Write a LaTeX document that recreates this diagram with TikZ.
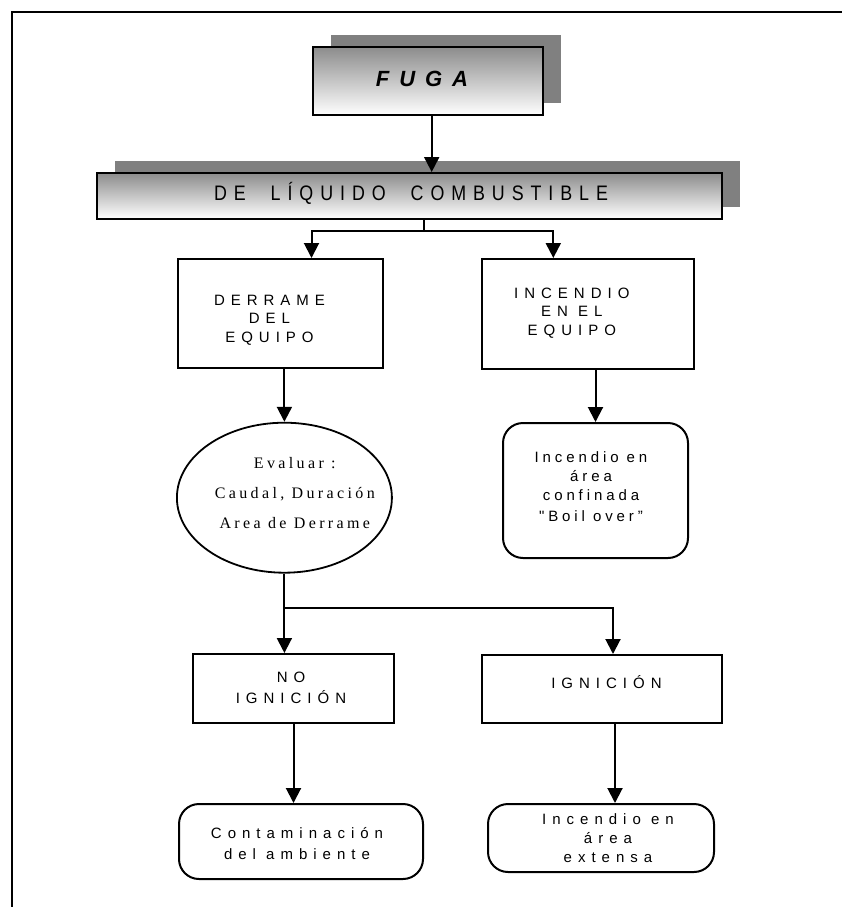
\documentclass[tikz,border=0pt]{standalone}
\usepackage{fontspec}
\setmainfont{Liberation Sans}
\newfontfamily\titlefont[LetterSpace=45]{Liberation Sans}
\newfontfamily\bandfont[LetterSpace=33,WordSpace=2.1,FakeStretch=0.85]{Liberation Sans}
\newfontfamily\capfont[LetterSpace=40]{Liberation Sans}
\newfontfamily\softfont[LetterSpace=26]{Liberation Sans}
\newfontfamily\evalfont[LetterSpace=21]{Liberation Serif}
\usepackage{tikz}
\usetikzlibrary{shapes,arrows.meta,shadows}
% lines of a node, moved right by #1 and up by #2
\newcommand{\nudge}[3]{\raisebox{#2}[0pt][0pt]{\makebox[0pt]{\hspace*{#1}\hspace*{#1}%
	\begin{tabular}{@{}c@{}}#3\end{tabular}}}}
\tikzstyle{banner} = [rectangle, draw, line width=2pt, top color=black!45,
	bottom color=white, inner sep=0pt]
\tikzstyle{block} = [rectangle, draw, line width=2pt, fill=white, inner sep=0pt,
	font=\capfont\fontsize{15}{18.5}\selectfont]
\tikzstyle{rblock} = [block, rounded corners=20pt]
\tikzstyle{cloud} = [draw, ellipse, line width=1.8pt, inner sep=0pt,
	font=\evalfont\fontsize{16}{30}\selectfont]
\tikzstyle{line} = [draw, line width=2pt, -{Triangle[width=15pt,length=15pt]}]
\tikzstyle{shade} = [drop shadow={shadow xshift=18pt, shadow yshift=12pt,
	opacity=1, fill=black!50}]

\begin{document}
\begin{tikzpicture}[x=1pt, y=-1pt]
	\useasboundingbox (0,0) rectangle (842,907);
	% frame
	\draw [line width=2pt] (12,907) -- (12,12.5) -- (842,12.5);
	% Place nodes
	\node [banner, shade, minimum width=230pt, minimum height=68pt,
		font=\titlefont\bfseries\itshape\fontsize{22}{26}\selectfont] (fuga) at (428,81)
		{\nudge{-6pt}{-5.9pt}{FUGA}};
	\node [banner, shade, minimum width=625pt, minimum height=46pt,
		font=\bandfont\fontsize{21}{24}\selectfont] (liquido) at (409.4,196)
		{\nudge{1.6pt}{-4.5pt}{DE LÍQUIDO COMBUSTIBLE}};
	\node [block, minimum width=205pt, minimum height=109pt] (derrame) at (280.5,313.5)
		{\nudge{-11pt}{-10pt}{DERRAME\\DEL\\EQUIPO}};
	\node [block, minimum width=212pt, minimum height=110pt] (incendio) at (588.3,314)
		{\nudge{-16.5pt}{-2.5pt}{INCENDIO\\EN EL\\EQUIPO}};
	\node [cloud, minimum width=215pt, minimum height=150pt] (evaluar) at (284.4,497.7)
		{\nudge{10.4pt}{1.2pt}{Evaluar :\\Caudal, Duración\\Area de Derrame}};
	\node [rblock, minimum width=185pt, minimum height=135pt,
		font=\softfont\fontsize{15}{19}\selectfont] (confinada) at (595.5,490.5)
		{\nudge{-4.5pt}{-1pt}{Incendio en\\área\\confinada\\[2pt]"Boil over”}};
	\node [block, minimum width=201pt, minimum height=69pt,
		font=\capfont\fontsize{15}{21}\selectfont] (noign) at (293.5,688.5)
		{\nudge{-2.5pt}{-4pt}{NO\\IGNICIÓN}};
	\node [block, minimum width=240pt, minimum height=68pt] (ignicion) at (602,689)
		{\nudge{4.5pt}{1pt}{IGNICIÓN}};
	\node [rblock, minimum width=244pt, minimum height=75pt,
		font=\capfont\fontsize{15}{21}\selectfont] (contam) at (301,841.5)
		{\nudge{-4pt}{-7pt}{Contaminación\\del ambiente}};
	\node [rblock, minimum width=226pt, minimum height=68pt,
		font=\capfont\fontsize{15}{19}\selectfont] (extensa) at (601,838)
		{\nudge{7pt}{-5pt}{Incendio en\\área\\extensa}};
	\coordinate (split) at (424,231);
	\coordinate (fork) at (284.4,608);
	% Draw edges
	\path [line] ([xshift=3.7pt]fuga.south) -- ([xshift=3.7pt]fuga.south |- liquido.north);
	\draw [line width=2pt] (liquido.south -| split) -- (split);
	\path [line] (split) -| ([xshift=31pt]derrame.north);
	\path [line] (split) -| ([xshift=-35pt]incendio.north);
	\path [line] (evaluar.north |- derrame.south) -- (evaluar.north);
	\path [line] (confinada.north |- incendio.south) -- (confinada.north);
	\path [line] (evaluar.south) -- (fork) -- (fork |- noign.north);
	\path [line] (fork) -| ([xshift=11pt]ignicion.north);
	\path [line] (noign.south) -- (noign.south |- contam.north);
	\path [line] ([xshift=13pt]ignicion.south) -- ([xshift=13pt]ignicion.south |- extensa.north);
\end{tikzpicture}
\end{document}
